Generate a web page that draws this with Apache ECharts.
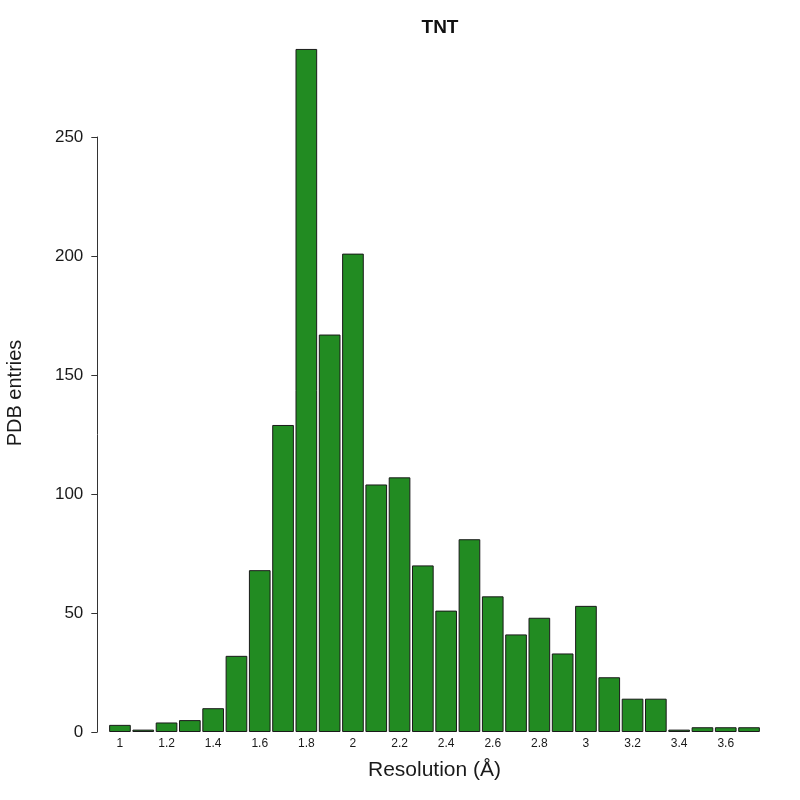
<!DOCTYPE html>
<html>
<head>
<meta charset="utf-8">
<script src="https://cdn.jsdelivr.net/npm/echarts@6/dist/echarts.min.js"></script>
<style>html,body{margin:0;padding:0;background:#fff}#c{width:800px;height:800px}</style>
</head>
<body>
<div id="c"></div>
<script>
const titleText = "TNT";
const xName = "Resolution (Å)";
const yName = "PDB entries";
const categories = ["1","1.1","1.2","1.3","1.4","1.5","1.6","1.7","1.8","1.9","2","2.1","2.2","2.3","2.4","2.5","2.6","2.7","2.8","2.9","3","3.1","3.2","3.3","3.4","3.5","3.6","3.7"];
const counts = [3,1,4,5,10,32,68,129,287,167,201,104,107,70,51,81,57,41,48,33,53,23,14,14,1,2,2,2];
const yTicks = [0,50,100,150,200,250];

const chart = echarts.init(document.getElementById('c'), null, {renderer:'canvas'});
const narrow = '"Liberation Sans Narrow", "Nimbus Sans Narrow", "Arial Narrow", "Liberation Sans", sans-serif';
chart.setOption({
  backgroundColor: '#ffffff',
  animation: false,
  title: {
    text: titleText, left: 435, top: 13, textAlign: 'center',
    textStyle: {fontFamily: '"Liberation Sans", Arial, sans-serif', fontWeight: 'bold', fontSize: 19, color: '#111'}
  },
  graphic: [{
    type: 'text', x: 15, y: 393, rotation: Math.PI/2,
    style: {text: yName, fontFamily: narrow, fontSize: 20, fill: '#1a1a1a', textAlign: 'center', textVerticalAlign: 'middle'}
  }],
  grid: {left: 108.3, right: 39.3, top: 137, bottom: 68, containLabel: false},
  xAxis: {
    type: 'category', data: categories,
    axisLine: {show: false}, axisTick: {show: false},
    axisLabel: {interval: 1, margin: 6, fontSize: 12, fontFamily: narrow, color: '#1a1a1a'},
    name: xName, nameLocation: 'middle', nameGap: 28,
    nameTextStyle: {fontFamily: narrow, fontSize: 21, color: '#1a1a1a'}
  },
  yAxis: {
    type: 'value', min: 0, max: 250, interval: 50, offset: 11,
    splitLine: {show: false},
    axisLine: {show: true, lineStyle: {color: '#333', width: 1}},
    axisTick: {show: true, length: 6, lineStyle: {color: '#333'}},
    axisLabel: {margin: 14, fontSize: 17, fontFamily: '"Liberation Sans", Arial, sans-serif', color: '#1a1a1a',
      formatter: v => yTicks.includes(v) ? String(v) : ''}
  },
  series: [{
    type: 'bar', data: counts, clip: false, barCategoryGap: '7%',
    itemStyle: {color: '#228B22', borderColor: '#1a1a1a', borderWidth: 1}
  }]
});
</script>
</body>
</html>
